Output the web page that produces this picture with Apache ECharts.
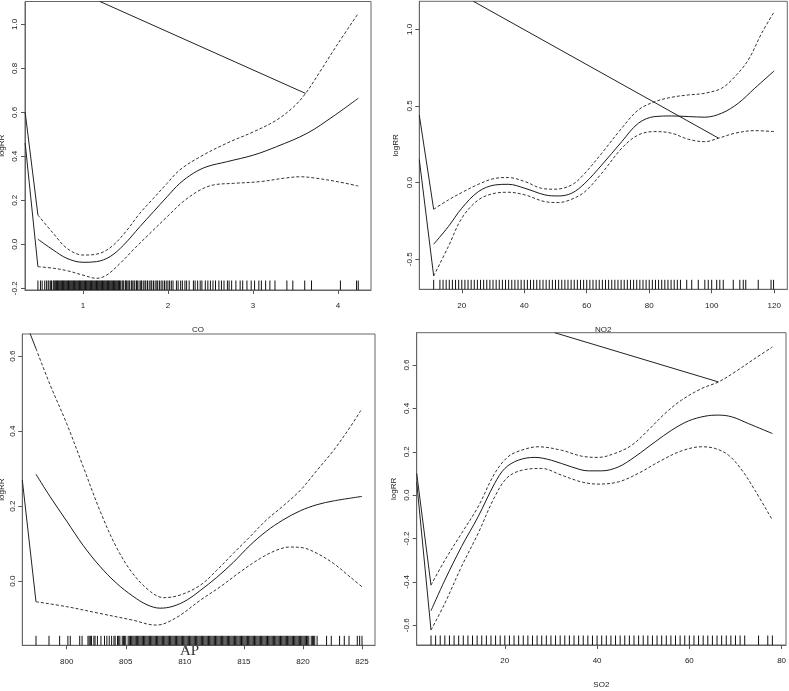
<!DOCTYPE html>
<html><head><meta charset="utf-8">
<script src="https://cdn.jsdelivr.net/npm/echarts@6/dist/echarts.min.js"></script>
<style>html,body{margin:0;padding:0;background:#fff}#c{width:789px;height:691px}</style>
</head><body><div id="c"></div>
<script>
// ---------- Panel 1: CO ----------
const coFitX = [0.47,0.65,0.81,1.0,1.16,1.32,1.48,1.67,1.83,1.99,2.14,2.3,2.46,2.69,3.01,3.28,3.64,3.95,4.24];
const coFit  = [0.023,-0.026,-0.064,-0.082,-0.079,-0.056,-0.003,0.08,0.148,0.216,0.277,0.323,0.353,0.375,0.406,0.444,0.505,0.583,0.664];
const coUpX  = [0.47,0.65,0.81,1.0,1.2,1.36,1.52,1.67,1.83,1.99,2.14,2.38,2.69,3.01,3.28,3.48,3.62,3.79,3.99,4.24];
const coUp   = [0.133,0.05,-0.018,-0.049,-0.041,-0.003,0.065,0.141,0.209,0.277,0.338,0.398,0.459,0.512,0.565,0.625,0.686,0.785,0.906,1.05];
const coLoX  = [0.47,0.65,0.81,1.0,1.16,1.28,1.44,1.59,1.79,1.99,2.18,2.38,2.54,2.77,3.09,3.36,3.56,3.75,3.99,4.24];
const coLo   = [-0.102,-0.109,-0.12,-0.14,-0.155,-0.14,-0.086,-0.026,0.05,0.125,0.194,0.247,0.27,0.277,0.285,0.3,0.307,0.3,0.285,0.265];
const coUpLead = [[0.32,0.6],[0.47,0.133]];
const coLoLead = [[0.32,0.46],[0.47,-0.102]];
const coDiag = [[1.2,1.104],[3.62,0.686]];
const coRug = [0.47,0.5,0.52,0.55,0.57,0.59,0.6,0.62,0.63,0.65,0.66,0.67,0.68,0.69,0.7,0.71,0.72,0.73,0.74,0.75,0.76,0.77,0.78,0.79,0.8,0.81,0.82,0.83,0.84,0.85,0.86,0.87,0.88,0.89,0.9,0.91,0.92,0.93,0.94,0.95,0.96,0.97,0.98,0.99,1.0,1.01,1.02,1.03,1.04,1.05,1.06,1.07,1.08,1.09,1.1,1.11,1.12,1.13,1.14,1.15,1.16,1.17,1.18,1.19,1.2,1.21,1.22,1.23,1.24,1.25,1.26,1.27,1.28,1.29,1.3,1.31,1.32,1.33,1.34,1.35,1.36,1.37,1.38,1.39,1.4,1.41,1.42,1.43,1.44,1.46,1.47,1.48,1.5,1.51,1.52,1.54,1.55,1.57,1.58,1.6,1.61,1.63,1.64,1.66,1.68,1.69,1.71,1.73,1.74,1.76,1.78,1.8,1.81,1.83,1.85,1.87,1.88,1.9,1.92,1.94,1.96,1.98,2.0,2.02,2.04,2.06,2.1,2.12,2.15,2.17,2.2,2.22,2.25,2.3,2.32,2.35,2.38,2.4,2.44,2.47,2.5,2.53,2.56,2.6,2.63,2.66,2.7,2.72,2.75,2.8,2.85,2.88,2.93,2.98,3.02,3.07,3.1,3.15,3.2,3.26,3.4,3.47,3.61,3.69,4.03,4.22,4.24];
const coXTicks = [1,2,3,4];
const coYTicks = [-0.2,0,0.2,0.4,0.6,0.8,1.0];

// ---------- Panel 2: NO2 ----------
const no2FitX = [11,15.7,20,25.3,30.7,34.9,40.2,46.6,50.9,55.2,59.4,64.8,71.2,76.5,81.8,87.2,92.5,97.8,103.2,108.5,113.8,120];
const no2Fit  = [-0.402,-0.287,-0.167,-0.059,-0.015,-0.011,-0.037,-0.08,-0.087,-0.069,-0.004,0.115,0.267,0.387,0.431,0.435,0.431,0.427,0.453,0.518,0.616,0.729];
const no2UpX  = [11,15.7,20,25.3,30.7,34.9,40.2,45.5,49.8,55.2,59.4,64.8,71.2,76.5,81.8,87.2,92.5,97.8,103.2,107.4,111.7,116,120];
const no2Up   = [-0.174,-0.113,-0.065,-0.011,0.028,0.033,0.007,-0.037,-0.043,-0.015,0.061,0.192,0.355,0.474,0.528,0.557,0.572,0.583,0.616,0.691,0.8,0.975,1.115];
const no2LoX  = [11,15.7,20,25.3,30.7,34.9,40.2,46.6,50.9,55.2,59.4,64.8,71.2,76.5,81.8,87.2,92.5,97.8,102.2,107.4,113.8,120];
const no2Lo   = [-0.609,-0.417,-0.232,-0.113,-0.069,-0.063,-0.08,-0.124,-0.13,-0.108,-0.059,0.061,0.224,0.311,0.333,0.322,0.283,0.267,0.29,0.322,0.339,0.333];
const no2UpLead = [[6.4,0.44],[11,-0.174]];
const no2LoLead = [[6.4,0.15],[11,-0.609]];
const no2Diag = [[23.7,1.183],[102.2,0.29]];
const no2Rug = [11,13,14,15,16,17,18,19,20,21,22,23,24,25,26,27,28,29,30,31,32,33,34,35,36,37,38,39,40,41,42,43,44,45,46,47,48,49,50,51,52,53,54,55,56,57,58,59,60,61,62,63,64,65,66,67,68,69,70,71,72,73,74,75,76,77,78,79,80,81,82,83,84,85,86,87,88,89,90,92,93.6,95.7,97.8,98.9,100,101.6,102.6,103.7,106.9,109,110.1,110.9,114.9,119,119.8];
const no2XTicks = [20,40,60,80,100,120];
const no2YTicks = [-0.5,0,0.5,1.0];

// ---------- Panel 3: AP ----------
const apFitX = [797.4,798.6,800,801.4,802.8,804.2,805.6,806.8,807.9,809,810.2,811.3,812.7,814.1,815.5,816.9,818.3,819.8,821.2,822.6,825];
const apFit  = [0.285,0.225,0.16,0.095,0.04,-0.005,-0.04,-0.063,-0.072,-0.067,-0.05,-0.025,0.01,0.05,0.095,0.133,0.163,0.188,0.204,0.214,0.226];
const apUpX  = [797.4,798.6,800,801.4,802.8,804.2,805.6,807.1,808.2,809.6,811.3,812.7,814.1,815.5,816.9,818.3,819.8,821.2,822.6,824,825];
const apUp   = [0.62,0.523,0.42,0.305,0.189,0.091,0.02,-0.028,-0.044,-0.037,-0.011,0.029,0.074,0.118,0.163,0.2,0.243,0.296,0.349,0.411,0.46];
const apLoX  = [797.4,800,802.8,805.6,807.5,808.2,809.6,811.3,813,814.7,816.4,817.8,818.9,820,821.2,822.6,824,825];
const apLo   = [-0.055,-0.068,-0.086,-0.104,-0.117,-0.114,-0.091,-0.051,-0.015,0.025,0.061,0.083,0.091,0.089,0.074,0.047,0.011,-0.015];
const apUpLead = [[796.4,0.7],[797.4,0.62]];
const apLoLead = [[796.24,0.27],[797.4,-0.055]];
const apRug = [797.4,798.5,799.4,800.1,800.3,801.1,801.3,801.8,801.9,802.0,802.1,802.3,802.4,802.6,802.9,803.2,803.4,803.6,803.8,804.0,804.1,804.3,804.4,804.5,804.7,804.8,804.9,805.0,805.2,805.3,805.4,805.5,805.6,805.7,805.8,805.9,806.0,806.1,806.2,806.3,806.4,806.5,806.6,806.7,806.8,806.9,807.0,807.1,807.2,807.3,807.4,807.5,807.6,807.7,807.8,807.9,808.0,808.1,808.2,808.3,808.4,808.5,808.6,808.7,808.8,808.9,809.0,809.1,809.2,809.3,809.4,809.5,809.6,809.7,809.8,809.9,810.0,810.1,810.2,810.3,810.4,810.5,810.6,810.7,810.8,810.9,811.0,811.1,811.2,811.3,811.4,811.5,811.6,811.7,811.8,811.9,812.0,812.1,812.2,812.3,812.4,812.5,812.6,812.7,812.8,812.9,813.0,813.1,813.2,813.3,813.4,813.5,813.6,813.7,813.8,813.9,814.0,814.1,814.2,814.3,814.4,814.5,814.6,814.7,814.8,814.9,815.0,815.1,815.2,815.3,815.4,815.5,815.6,815.7,815.8,815.9,816.0,816.1,816.2,816.3,816.4,816.5,816.6,816.7,816.8,816.9,817.0,817.1,817.2,817.3,817.4,817.5,817.6,817.7,817.8,817.9,818.0,818.1,818.2,818.3,818.4,818.5,818.6,818.7,818.8,818.9,819.0,819.1,819.2,819.3,819.4,819.5,819.6,819.7,819.8,819.9,820.0,820.1,820.2,820.3,820.4,820.5,820.7,820.8,820.9,821.0,821.2,822.0,822.4,823.1,823.5,823.9,824.6,824.8,825.0];
const apXTicks = [800,805,810,815,820,825];
const apYTicks = [0,0.2,0.4,0.6];

// ---------- Panel 4: SO2 ----------
const so2FitX = [4,7,10.6,14.2,17.8,20,22.9,26.5,30.1,34.5,38.1,41,44.6,48.2,52.6,56.2,59.8,63.4,66.3,69.2,72.8,78];
const so2Fit  = [-0.533,-0.392,-0.238,-0.1,0.054,0.123,0.161,0.174,0.161,0.13,0.112,0.112,0.13,0.177,0.246,0.3,0.342,0.364,0.369,0.361,0.33,0.284];
const so2UpX  = [4,7,10.6,14.2,17.8,20.7,23.6,27.2,32.3,36.6,40.2,43.8,47.5,51.1,54.7,58.3,62.7,66.3,69.9,74.2,78];
const so2Up   = [-0.415,-0.3,-0.177,-0.054,0.1,0.177,0.207,0.223,0.207,0.18,0.174,0.192,0.23,0.3,0.376,0.438,0.492,0.522,0.568,0.63,0.683];
const so2LoX  = [4,7,10.6,14.2,17.8,20.7,24.4,28,32.3,36.6,40.2,44.6,48.9,54,58.3,62.7,65.6,68.5,71.4,74.2,78];
const so2Lo   = [-0.622,-0.499,-0.33,-0.177,-0.008,0.084,0.118,0.123,0.092,0.061,0.051,0.061,0.1,0.161,0.204,0.223,0.215,0.184,0.115,0.023,-0.115];
const so2UpLead = [[0.9,0.1],[4,-0.415]];
const so2LoLead = [[0.9,0.06],[4,-0.622]];
const so2Diag = [[30.8,0.749],[66.3,0.522]];
const so2Rug = [4,5,6,7,8,9,10,11,12,13,14,15,16,17,18,19,20,21,22,23,24,25,26,27,28,29,30,31,32,33,34,35,36,37,38,39,40,41,42,43,44,45,46,47,48,49,50,51,52,53,54,55,56,57,58,59,60,61,62,63,64,65,66,67,68,69,70,71,72,75,77,78];
const so2XTicks = [20,40,60,80];
const so2YTicks = [-0.6,-0.4,-0.2,0,0.2,0.4,0.6];

// ---------- layout ----------
const panels = [
  {grid:{left:25,top:1.5,width:346,height:288.5}, x:[0.318,4.39], y:[-0.208,1.104], xt:coXTicks, yt:coYTicks, xname:'CO', xgap:36, ygap:19,
   fitX:coFitX, fit:coFit, upX:coUpX, up:coUp, loX:coLoX, lo:coLo, upLead:coUpLead, loLead:coLoLead, diag:coDiag, rug:coRug},
  {grid:{left:419.3,top:1.3,width:368,height:288}, x:[6.4,124.2], y:[-0.696,1.183], xt:no2XTicks, yt:no2YTicks, xname:'NO2', xgap:36, ygap:20,
   fitX:no2FitX, fit:no2Fit, upX:no2UpX, up:no2Up, loX:no2LoX, lo:no2Lo, upLead:no2UpLead, loLead:no2LoLead, diag:no2Diag, rug:no2Rug},
  {grid:{left:22.3,top:334,width:352.7,height:311.3}, x:[796.24,826.1], y:[-0.171,0.659], xt:apXTicks, yt:apYTicks, xname:'', xgap:36, ygap:17,
   fitX:apFitX, fit:apFit, upX:apUpX, up:apUp, loX:apLoX, lo:apLo, upLead:apUpLead, loLead:apLoLead, diag:null, rug:apRug},
  {grid:{left:416.7,top:332.7,width:369.3,height:312.3}, x:[0.9,80.95], y:[-0.691,0.749], xt:so2XTicks, yt:so2YTicks, xname:'SO2', xgap:36, ygap:19,
   fitX:so2FitX, fit:so2Fit, upX:so2UpX, up:so2Up, loX:so2LoX, lo:so2Lo, upLead:so2UpLead, loLead:so2LoLead, diag:so2Diag, rug:so2Rug}
];

const FONT = 'Liberation Sans';
const TXT = '#222';
const grids = [], xAxes = [], yAxes = [], series = [];
const zip = (xs, ys) => xs.map((v, i) => [v, ys[i]]);

panels.forEach((p, i) => {
  grids.push(Object.assign({show:true, borderColor:'#666', borderWidth:1, backgroundColor:'transparent', containLabel:false, outerBoundsMode:'none'}, p.grid));
  xAxes.push({type:'value', gridIndex:i, min:p.x[0], max:p.x[1], splitLine:{show:false},
    axisLine:{show:true, onZero:false, lineStyle:{color:'#666', width:1}},
    axisTick:{show:true, length:4, inside:false, customValues:p.xt, lineStyle:{color:'#555'}},
    axisLabel:{show:true, customValues:p.xt, margin:12, fontSize:8, color:TXT, fontFamily:FONT, formatter:v=>String(v)},
    name:p.xname, nameLocation:'middle', nameGap:p.xgap, nameTextStyle:{fontSize:8, color:TXT, fontFamily:FONT}});
  yAxes.push({type:'value', gridIndex:i, min:p.y[0], max:p.y[1], splitLine:{show:false},
    axisLine:{show:true, onZero:false, lineStyle:{color:'#666', width:1}},
    axisTick:{show:true, length:4, inside:false, customValues:p.yt, lineStyle:{color:'#555'}},
    axisLabel:{show:true, customValues:p.yt, rotate:90, margin:6, fontSize:8, color:TXT, fontFamily:FONT, formatter:v=>Number(v).toFixed(1)},
    name:'logRR', nameLocation:'middle', nameGap:p.ygap, nameRotate:90, nameTextStyle:{fontSize:8, color:TXT, fontFamily:FONT}});

  const base = {type:'line', xAxisIndex:i, yAxisIndex:i, showSymbol:false, symbol:'none', clip:true, silent:true, animation:false};
  series.push(Object.assign({}, base, {data:zip(p.fitX, p.fit), smooth:0.35, lineStyle:{color:'#1a1a1a', width:1}}));
  series.push(Object.assign({}, base, {data:zip(p.upX, p.up), smooth:0.35, lineStyle:{color:'#333', width:1, type:[3,2]}}));
  series.push(Object.assign({}, base, {data:zip(p.loX, p.lo), smooth:0.35, lineStyle:{color:'#333', width:1, type:[3,2]}}));
  series.push(Object.assign({}, base, {data:p.upLead, lineStyle:{color:'#222', width:1}}));
  series.push(Object.assign({}, base, {data:p.loLead, lineStyle:{color:'#222', width:1}}));
  if (p.diag) series.push(Object.assign({}, base, {data:p.diag, lineStyle:{color:'#222', width:1}}));
  const yMin = p.y[0];
  series.push({type:'custom', xAxisIndex:i, yAxisIndex:i, silent:true, animation:false, clip:false,
    data:p.rug.map(v => [v, yMin]),
    encode:{x:0, y:1},
    renderItem:(params, api) => {
      const c = api.coord([api.value(0), api.value(1)]);
      return {type:'line', shape:{x1:c[0], y1:c[1], x2:c[0], y2:c[1]-9.5}, style:{stroke:'#111', lineWidth:1}};
    }});
});

const chart = echarts.init(document.getElementById('c'), null, {renderer:'canvas'});
chart.setOption({
  backgroundColor:'#fff', animation:false,
  grid:grids, xAxis:xAxes, yAxis:yAxes, series:series,
  graphic:[{type:'text', left:180, top:644, style:{text:'AP', fontSize:15, fontFamily:'Liberation Serif', fill:'#333'}}]
});
</script></body></html>
